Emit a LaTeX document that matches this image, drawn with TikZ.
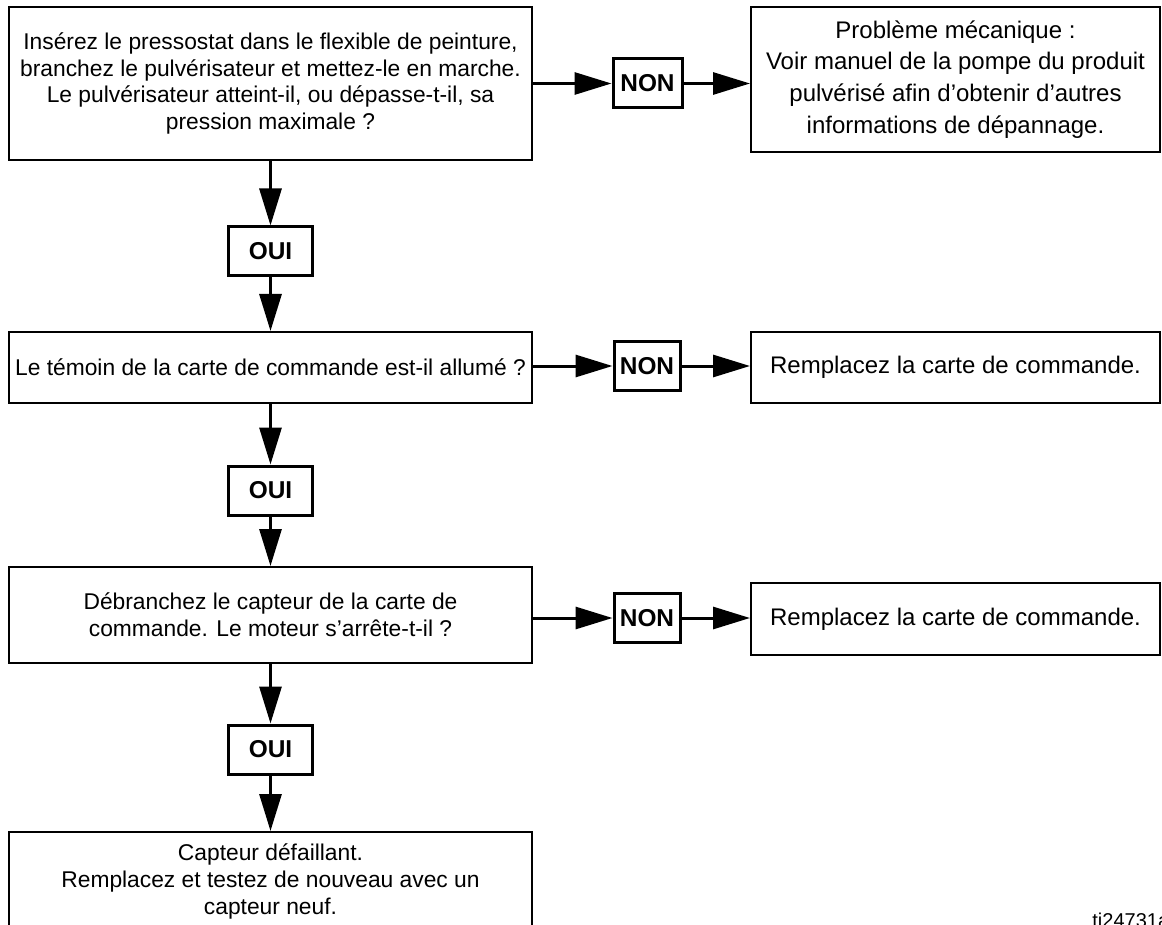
\documentclass[tikz,border=0pt]{standalone}
\usepackage{fontspec}
\setmainfont{Liberation Sans}
\usetikzlibrary{arrows.meta}

\begin{document}
\begin{tikzpicture}[x=0.5pt, y=-0.5pt, line join=miter,
  etape/.style={draw, line width=1pt, align=center, inner sep=2pt, minimum width=261.5pt, font=\fontsize{11.4}{13.4}\selectfont},
  issue/.style={draw, line width=1pt, align=center, inner sep=2pt, minimum width=204.5pt, font=\fontsize{12}{15.9}\selectfont},
  rep/.style={draw, line width=1.5pt, inner sep=0pt, minimum height=24.5pt, font=\fontsize{12.2}{14}\selectfont\bfseries},
  fl/.style={line width=1.5pt, -{Triangle[length=18.5pt, width=11pt]}}]
\useasboundingbox (0,0) rectangle (1162,925);
\clip (0,0) rectangle (1162,925);

% pression maxi
\node[etape, minimum height=76.5pt] (q1) at (270.5,83.5) {Insérez le pressostat dans le flexible de peinture,\\branchez le pulvérisateur et mettez-le en marche.\\Le pulvérisateur atteint-il, ou dépasse-t-il, sa\\pression maximale ?};
\node[rep, minimum width=34.5pt] (non1) at (647.5,83.5) {NON};
\node[issue, minimum height=72.5pt] (r1) at (955.5,79.5) {Problème mécanique :\\Voir manuel de la pompe du produit\\pulvérisé afin d’obtenir d’autres\\informations de dépannage.};
\node[rep, minimum width=42pt] (oui1) at (270.5,251.5) {OUI};

% témoin
\node[etape, minimum height=35.5pt] (q2) at (270.5,367.5) {Le témoin de la carte de commande est-il allumé ?};
\node[rep, minimum width=33pt] (non2) at (647,366) {NON};
\node[issue, minimum height=35.5pt] (r2) at (955.5,367.5) {Remplacez la carte de commande.};
\node[rep, minimum width=42pt] (oui2) at (270.5,490.5) {OUI};

% capteur
\node[etape, minimum height=48pt] (q3) at (270.5,615) {Débranchez le capteur de la carte de\\commande. Le moteur s’arrête-t-il ?};
\node[rep, minimum width=33pt] (non3) at (647,618) {NON};
\node[issue, minimum height=36pt] (r3) at (955.5,619) {Remplacez la carte de commande.};
\node[rep, minimum width=42pt] (oui3) at (270.5,749.5) {OUI};

\node[etape, anchor=north, inner ysep=6pt] (q4) at (270.5,831) {Capteur défaillant.\\Remplacez et testez de nouveau avec un\\capteur neuf.\rule[-30pt]{0pt}{0pt}};

\draw[fl] (q1.east |- non1) -- (non1.west);
\draw[fl] (non1.east) -- (non1.east -| r1.west);
\draw[fl] (q1.south) -- (oui1.north);
\draw[fl] (oui1.south) -- (q2.north);
\draw[fl] (q2.east |- non2) -- (non2.west);
\draw[fl] (non2.east) -- (non2.east -| r2.west);
\draw[fl] (q2.south) -- (oui2.north);
\draw[fl] (oui2.south) -- (q3.north);
\draw[fl] (q3.east |- non3) -- (non3.west);
\draw[fl] (non3.east) -- (non3.east -| r3.west);
\draw[fl] (q3.south) -- (oui3.north);
\draw[fl] (oui3.south) -- (q4.north);

\node[anchor=base west, inner sep=0pt, font=\fontsize{10}{12}\selectfont] (ref) at (1092,927) {ti24731a};
\end{tikzpicture}
\end{document}
